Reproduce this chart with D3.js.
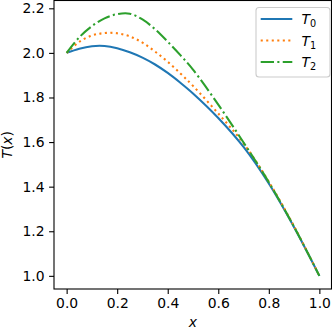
<!DOCTYPE html>
<meta charset="utf-8">
<script src="https://d3js.org/d3.v7.min.js"></script>
<style>
  body { margin: 0; background: #fff; }
  text { font-family: "DejaVu Sans", sans-serif; }
</style>
<div id="my_dataviz"></div>
<script>

// sample positions along x and the three temperature profiles
var xs = [0, 0.05, 0.1, 0.15, 0.2, 0.25, 0.3, 0.35, 0.4, 0.45, 0.5, 0.6, 0.7, 0.8, 0.9, 1.0];
var T0 = [2.000, 2.019, 2.030, 2.031, 2.021, 2.003, 1.979, 1.948, 1.910, 1.866, 1.818, 1.708, 1.578, 1.414, 1.218, 1.000];
var T1 = [2.000, 2.050, 2.078, 2.089, 2.088, 2.074, 2.046, 2.006, 1.960, 1.908, 1.852, 1.728, 1.594, 1.422, 1.222, 1.000];
var T2 = [2.000, 2.070, 2.120, 2.155, 2.174, 2.176, 2.150, 2.106, 2.050, 1.990, 1.925, 1.768, 1.598, 1.420, 1.220, 1.000];

var seriesNames = ["0", "1", "2"];
var seriesValues = [T0, T1, T2];
var colors = ["#1f77b4", "#ff7f0e", "#2ca02c"];
var dashes = [null, "2.08,3.44", "13.3,3.33,2.08,3.33"];

var xTicks = [0, 0.2, 0.4, 0.6, 0.8, 1.0];
var yTicks = [1.0, 1.2, 1.4, 1.6, 1.8, 2.0, 2.2];

// plot box (window.top is reserved, so use a margin object)
var W = 332, H = 333;
var box = {left: 54, right: 331.5, top: 0.5, bottom: 289};

var svg = d3.select("#my_dataviz")
  .append("svg")
    .attr("width", W)
    .attr("height", H);

var x = d3.scaleLinear().domain([-0.05, 1.05]).range([box.left, box.right + 0.5]);
var y = d3.scaleLinear().domain([0.941, 2.235]).range([box.bottom, box.top]);

// lines
var line = d3.line()
  .x(function(d) { return x(d[0]); })
  .y(function(d) { return y(d[1]); })
  .curve(d3.curveCatmullRom.alpha(0.5));

seriesValues.forEach(function(vals, i) {
  svg.append("path")
    .datum(xs.map(function(v, j) { return [v, vals[j]]; }))
    .attr("d", line)
    .attr("fill", "none")
    .attr("stroke", colors[i])
    .attr("stroke-width", 2.08)
    .attr("stroke-dasharray", dashes[i]);
});

// x axis
svg.append("g")
  .attr("transform", "translate(0," + box.bottom + ")")
  .call(d3.axisBottom(x).tickValues(xTicks).tickSize(4.9).tickPadding(4.5)
    .tickFormat(d3.format(".1f")))
  .call(function(g) {
    g.select(".domain").remove();
    g.selectAll("line").attr("stroke", "#000").attr("stroke-width", 1.1);
    g.selectAll("text").attr("font-size", "13.9px").attr("fill", "#000")
      .attr("font-family", "DejaVu Sans");
  });

// y axis
svg.append("g")
  .attr("transform", "translate(" + box.left + ",0)")
  .call(d3.axisLeft(y).tickValues(yTicks).tickSize(4.9).tickPadding(4.5)
    .tickFormat(d3.format(".1f")))
  .call(function(g) {
    g.select(".domain").remove();
    g.selectAll("line").attr("stroke", "#000").attr("stroke-width", 1.1);
    g.selectAll("text").attr("font-size", "13.9px").attr("fill", "#000")
      .attr("font-family", "DejaVu Sans");
  });

// frame
svg.append("rect")
  .attr("x", box.left).attr("y", box.top)
  .attr("width", box.right - box.left).attr("height", box.bottom - box.top)
  .attr("fill", "none").attr("stroke", "#000").attr("stroke-width", 1.1);

// axis labels
svg.append("text")
  .attr("x", (box.left + box.right) / 2).attr("y", 327)
  .attr("text-anchor", "middle")
  .attr("font-size", "13.9px")
  .attr("font-style", "italic")
  .text("x");

var yl = svg.append("text")
  .attr("transform", "translate(12," + ((box.top + box.bottom) / 2) + ") rotate(-90)")
  .attr("text-anchor", "middle")
  .attr("font-size", "13.9px");
yl.append("tspan").attr("font-style", "italic").text("T");
yl.append("tspan").text("(");
yl.append("tspan").attr("font-style", "italic").text("x");
yl.append("tspan").text(")");

// legend
var lg = svg.append("g");
lg.append("rect")
  .attr("x", 256).attr("y", 7.5)
  .attr("width", 74).attr("height", 69.5)
  .attr("rx", 3).attr("ry", 3)
  .attr("fill", "#fff").attr("fill-opacity", 0.8)
  .attr("stroke", "#cccccc").attr("stroke-width", 1.1);

seriesNames.forEach(function(name, i) {
  var ly = 19 + i * 21.5;
  lg.append("line")
    .attr("x1", 260.7).attr("x2", 292.3)
    .attr("y1", ly).attr("y2", ly)
    .attr("stroke", colors[i])
    .attr("stroke-width", 2.08)
    .attr("stroke-dasharray", dashes[i]);
  var t = lg.append("text")
    .attr("x", 301.5).attr("y", ly + 5)
    .attr("font-size", "13.9px");
  t.append("tspan").attr("font-style", "italic").text("T");
  t.append("tspan").attr("font-size", "9.7px").attr("dy", 3).text(name);
});

</script>
